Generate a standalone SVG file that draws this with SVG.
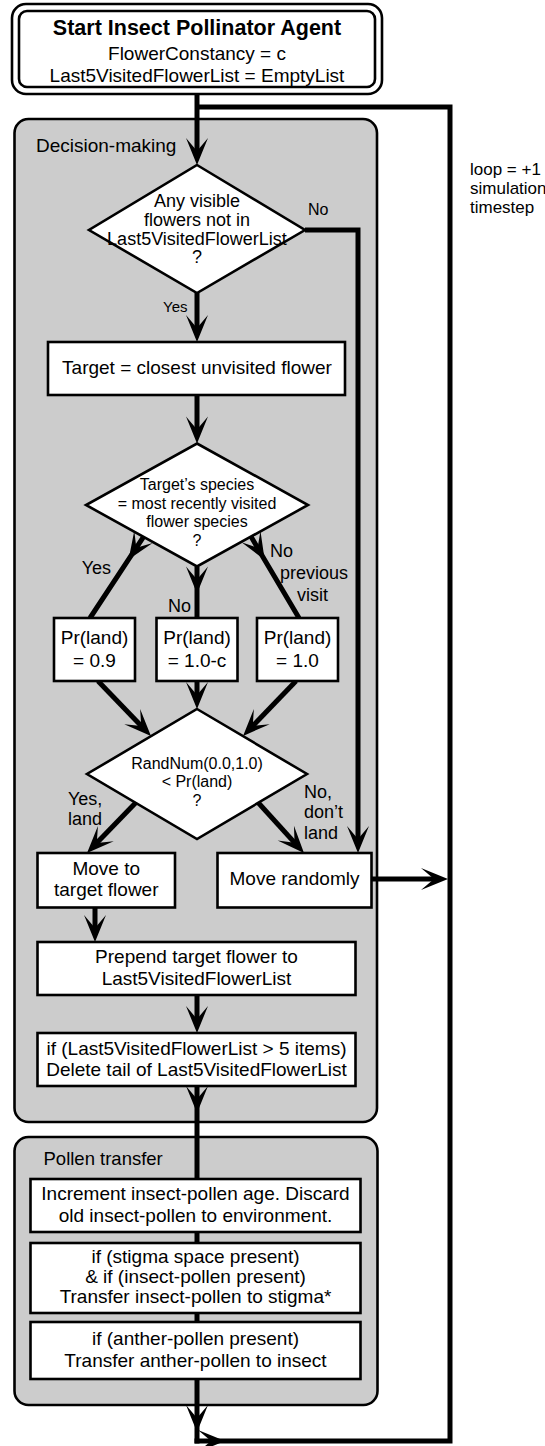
<svg xmlns="http://www.w3.org/2000/svg" width="545" height="1446" viewBox="0 0 545 1446">
<defs>
<style>
text{font-family:"Liberation Sans",Arial,Helvetica,sans-serif;fill:#000}
.box{fill:#fff;stroke:#000;stroke-width:2.6}
.grp{fill:#cccccc;stroke:#000;stroke-width:2.6}
.t19{font-size:19px;text-anchor:middle}
.t16{font-size:16px;text-anchor:middle}
.t18{font-size:18px;text-anchor:middle}
.lbl{font-size:18px}
.c{fill:none;stroke:#000;stroke-width:5;stroke-linejoin:miter;stroke-linecap:butt}
.ce{marker-end:url(#ah)}
.cm{marker-mid:url(#am)}
</style>
<marker id="ah" markerUnits="userSpaceOnUse" markerWidth="40" markerHeight="26" viewBox="-30 -13 40 26" refX="-8" refY="0" orient="auto">
<path d="M0,0 L-27,-11 L-14,0 L-27,11 Z" fill="#000"/>
</marker>
<marker id="am" markerUnits="userSpaceOnUse" markerWidth="40" markerHeight="26" viewBox="-30 -13 40 26" refX="0" refY="0" orient="auto">
<path d="M0,0 L-27,-11 L-14,0 L-27,11 Z" fill="#000"/>
</marker>
</defs>

<g id="decision-group">
<rect class="grp" x="14.5" y="119" width="362.5" height="1003" rx="14"/>
<text x="36" y="152" style="font-size:19px">Decision-making</text>
</g>
<g id="pollen-group">
<rect class="grp" x="14.5" y="1137" width="363" height="268" rx="14"/>
<text x="43.5" y="1165" style="font-size:18.5px">Pollen transfer</text>
</g>

<g id="connectors">
<path class="c ce" d="M197,87 L197,157"/>
<path class="c" d="M217,1441 L450,1441 L450,107 L197,107"/>
<path class="c ce" d="M194.5,1441 L217,1441"/>
<path class="c cm" d="M197,1379 L197,1432 L197,1443.5"/>
<path class="c ce" d="M197,293 L197,334"/>
<path class="c ce" d="M305,230 L358,230 L358,845"/>
<path class="c ce" d="M197,395 L197,435.5"/>
<path class="c cm" d="M143.5,536.8 L128.6,559.4 L90,618"/>
<path class="c cm" d="M197,566.5 L197,593.5 L197,618"/>
<path class="c cm" d="M251,536.6 L264.7,559.9 L299,618"/>
<path class="c ce" d="M98,681 L145.4,730.2"/>
<path class="c ce" d="M296,681 L248.6,730.2"/>
<path class="c ce" d="M197,681 L197,701"/>
<path class="c ce" d="M135.7,802.8 L92.6,847.3"/>
<path class="c ce" d="M258.3,802.8 L298.6,847.1"/>
<path class="c ce" d="M95,907 L95,934"/>
<path class="c ce" d="M371.5,879 L440,879"/>
<path class="c ce" d="M197,995 L197,1025"/>
<path class="c cm" d="M197,1086 L197,1113 L197,1179"/>
<path class="c" d="M197,1232 L197,1243"/>
<path class="c" d="M197,1313 L197,1322"/>
</g>

<g id="start">
<rect x="12" y="4" width="370" height="90" rx="14" fill="#fff" stroke="#000" stroke-width="2.6"/>
<rect x="19" y="11" width="356" height="76" rx="8" fill="#fff" stroke="#000" stroke-width="2.6"/>
<text x="197" y="35" style="font-size:21.5px;font-weight:bold;text-anchor:middle">Start Insect Pollinator Agent</text>
<text class="t19" x="197" y="60">FlowerConstancy = c</text>
<text class="t19" x="197" y="82">Last5VisitedFlowerList = EmptyList</text>
</g>
<g id="loop-label">
<text x="470" y="175" style="font-size:17px">loop = +1</text>
<text x="470" y="194" style="font-size:17px">simulation</text>
<text x="470" y="213" style="font-size:17px">timestep</text>
</g>
<g id="d1">
<polygon class="box" points="197,165 305,230 197,293 89,230"/>
<text class="t18" x="197" y="207">Any visible</text>
<text class="t18" x="197" y="226">flowers not in</text>
<text class="t18" x="197" y="244.5">Last5VisitedFlowerList</text>
<text class="t18" x="197" y="262.5">?</text>
<text x="308" y="215" style="font-size:16px">No</text>
<text x="163" y="312" style="font-size:15px">Yes</text>
</g>
<g id="target">
<rect class="box" x="48" y="342" width="297" height="53"/>
<text class="t19" x="197" y="374">Target = closest unvisited flower</text>
</g>
<g id="d2">
<polygon class="box" points="197,443.5 308,505 197,566.5 86,505"/>
<text class="t16" x="197" y="490">Target’s species</text>
<text class="t16" x="197" y="508.5">= most recently visited</text>
<text class="t16" x="197" y="527">flower species</text>
<text class="t16" x="197" y="546">?</text>
<text class="lbl" x="81.7" y="574">Yes</text>
<text class="lbl" x="168" y="612">No</text>
<text class="lbl" x="270" y="557">No</text>
<text class="lbl" x="280" y="579">previous</text>
<text class="lbl" x="297" y="601">visit</text>
</g>
<g id="pr1">
<rect class="box" x="54" y="618" width="81" height="63"/>
<text class="t19" x="94.5" y="644">Pr(land)</text>
<text class="t19" x="94.5" y="667">= 0.9</text>
</g>
<g id="pr2">
<rect class="box" x="156.5" y="618" width="81" height="63"/>
<text class="t19" x="197" y="644">Pr(land)</text>
<text class="t19" x="197" y="667">= 1.0-c</text>
</g>
<g id="pr3">
<rect class="box" x="257" y="618" width="81" height="63"/>
<text class="t19" x="297.5" y="644">Pr(land)</text>
<text class="t19" x="297.5" y="667">= 1.0</text>
</g>
<g id="d3">
<polygon class="box" points="197,709 307,774 197,839 87,774"/>
<text class="t16" x="197" y="768.5">RandNum(0.0,1.0)</text>
<text class="t16" x="197" y="787">&lt; Pr(land)</text>
<text class="t16" x="197" y="806">?</text>
<text class="lbl" x="68" y="805">Yes,</text>
<text class="lbl" x="68" y="825">land</text>
<text class="lbl" x="304" y="798">No,</text>
<text class="lbl" x="304" y="818">don’t</text>
<text class="lbl" x="304" y="839">land</text>
</g>
<g id="move-target">
<rect class="box" x="37.5" y="853" width="137.5" height="54.5"/>
<text class="t19" x="106.25" y="875">Move to</text>
<text class="t19" x="106.25" y="896">target flower</text>
</g>
<g id="move-random">
<rect class="box" x="217.5" y="853" width="154" height="54.5"/>
<text class="t19" x="294.5" y="885">Move randomly</text>
</g>
<g id="prepend">
<rect class="box" x="37.5" y="942" width="318" height="53"/>
<text class="t19" x="196.5" y="963">Prepend target flower to</text>
<text class="t19" x="196.5" y="985">Last5VisitedFlowerList</text>
</g>
<g id="trim">
<rect class="box" x="37.5" y="1033" width="318" height="53"/>
<text class="t19" x="196.5" y="1055">if (Last5VisitedFlowerList &gt; 5 items)</text>
<text class="t19" x="196.5" y="1076">Delete tail of Last5VisitedFlowerList</text>
</g>
<g id="p1">
<rect class="box" x="30.5" y="1179" width="330" height="53"/>
<text class="t19" x="195.5" y="1200">Increment insect-pollen age. Discard</text>
<text class="t19" x="195.5" y="1221.5">old insect-pollen to environment.</text>
</g>
<g id="p2">
<rect class="box" x="30.5" y="1243" width="330" height="70"/>
<text class="t19" x="195.5" y="1263">if (stigma space present)</text>
<text class="t19" x="195.5" y="1283">&amp; if (insect-pollen present)</text>
<text class="t19" x="195.5" y="1303">Transfer insect-pollen to stigma*</text>
</g>
<g id="p3">
<rect class="box" x="30.5" y="1322" width="330" height="57"/>
<text class="t19" x="195.5" y="1345">if (anther-pollen present)</text>
<text class="t19" x="195.5" y="1366.5">Transfer anther-pollen to insect</text>
</g>
</svg>
